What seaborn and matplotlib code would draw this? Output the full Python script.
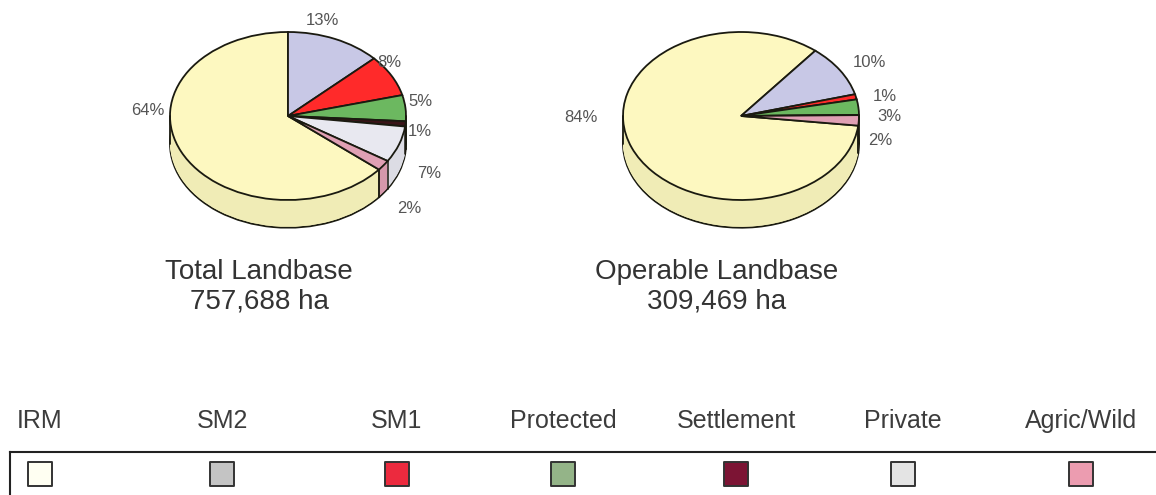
import numpy as np
import pandas as pd
import seaborn as sns
import matplotlib.pyplot as plt
from matplotlib.colors import to_rgb

# land use classes (legend order)
classes = ['IRM', 'SM2', 'SM1', 'Protected', 'Settlement', 'Private', 'Agric/Wild']

# percent of landbase per class
total_pct = [64, 13, 8, 5, 1, 7, 2]
operable_pct = [84, 10, 1, 3, 0, 0, 2]

total_title = 'Total Landbase\n757,688 ha'
operable_title = 'Operable Landbase\n309,469 ha'

pie_colors = ['#fdf8c0', '#c8c8e6', '#ff2a2a', '#6cb860', '#3a1418', '#e8e8f0', '#e0a0b4']
legend_colors = ['#fffff2', '#c4c4c4', '#ec2a3e', '#94b488', '#7c1434', '#e4e4e4', '#ec9cb0']

W, H = 1156, 495
sns.set_style('white')
plt.rcParams['font.family'] = ['Liberation Sans', 'DejaVu Sans']

fig = plt.figure(figsize=(W / 100, H / 100), dpi=100)


def px_axes(x0, y0, x1, y1):
    # axes from pixel box (y measured from top)
    return fig.add_axes([x0 / W, 1 - y1 / H, (x1 - x0) / W, (y1 - y0) / H])


def darker(c, f=0.95):
    return tuple(v * f for v in to_rgb(c))


def pie3d(ax, pct, top_angle=90, depth=0.33):
    # IRM sweeps clockwise round the left side, SM2 starts at top_angle
    start = top_angle + 360 * pct[0] / 100
    kw = dict(startangle=start, counterclock=False, radius=1.0)
    side = [darker(c) for c in pie_colors]

    # bottom face with outline, then filled layers for the side wall
    ax.pie(pct, colors=side, center=(0, -depth),
           wedgeprops=dict(edgecolor='#1a1a10', linewidth=1.3), **kw)
    for d in np.linspace(depth, 0, 30)[1:-1]:
        ax.pie(pct, colors=side, center=(0, -d),
               wedgeprops=dict(edgecolor='none', linewidth=0), **kw)

    # side outlines at visible slice boundaries
    ang = start - np.cumsum([0] + list(pct)) * 3.6
    for a in ang:
        s = np.sin(np.radians(a))
        if s < -0.05:
            x = np.cos(np.radians(a))
            ax.plot([x, x], [s, s - depth], color='#1a1a10', lw=1.1)
    ax.plot([-1, -1], [0, -depth], color='#1a1a10', lw=1.3)
    ax.plot([1, 1], [0, -depth], color='#1a1a10', lw=1.3)

    ax.pie(pct, colors=pie_colors, center=(0, 0),
           wedgeprops=dict(edgecolor='#1a1a10', linewidth=1.3), **kw)
    ax.set_aspect('auto')
    ax.set_xlim(-1.6, 1.6)
    ax.set_ylim(-1.5, 1.4)
    ax.axis('off')


txt = dict(fontsize=12, color='#555555', ha='center', va='center')

# total landbase pie: centre (288,116), 118 px per x unit, 84 px per y unit
ax1 = px_axes(288 - 1.6 * 118, 116 - 1.4 * 84, 288 + 1.6 * 118, 116 + 1.5 * 84)
pie3d(ax1, total_pct, top_angle=90)
total_lbl_pos = {0: (-1.19, 0.07), 1: (0.29, 1.14), 2: (0.86, 0.64), 3: (1.12, 0.17),
                 4: (1.12, -0.18), 5: (1.20, -0.68), 6: (1.03, -1.10)}
for i, (x, y) in total_lbl_pos.items():
    ax1.text(x, y, f'{total_pct[i]}%', **txt)

ax2 = px_axes(741 - 1.6 * 118, 116 - 1.4 * 84, 741 + 1.6 * 118, 116 + 1.5 * 84)
pie3d(ax2, operable_pct, top_angle=51)
op_lbl_pos = {0: (-1.36, -0.02), 1: (1.09, 0.64), 2: (1.22, 0.23), 3: (1.26, -0.01),
              6: (1.18, -0.29)}
for i, (x, y) in op_lbl_pos.items():
    ax2.text(x, y, f'{operable_pct[i]}%', **txt)

fig.text(259 / W, 1 - 287 / H, total_title, fontsize=20, color='#333333',
         ha='center', va='center', linespacing=1.2)
fig.text(717 / W, 1 - 287 / H, operable_title, fontsize=20, color='#333333',
         ha='center', va='center', linespacing=1.2)

# legend strip
axl = px_axes(10, 452, 1180, 520)
legend_x = [40, 222, 397, 563, 736, 903, 1081]
leg = pd.DataFrame({'cls': classes, 'x': legend_x, 'y': 22})
sns.scatterplot(data=leg, x='x', y='y', hue='cls', palette=legend_colors,
                marker='s', s=290, edgecolor='#333333', linewidth=1.4,
                legend=False, ax=axl)
axl.set_xlim(10, 1180)
axl.set_ylim(68, 0)
axl.set_xticks([])
axl.set_yticks([])
axl.set_xlabel('')
axl.set_ylabel('')
for sp in axl.spines.values():
    sp.set_color('#222222')
    sp.set_linewidth(1.5)
for x, c in zip(legend_x, classes):
    axl.text(x, -31, c, fontsize=18, color='#3c3c3c', ha='center', va='center',
             clip_on=False)

fig.savefig('out.png', dpi=100)
